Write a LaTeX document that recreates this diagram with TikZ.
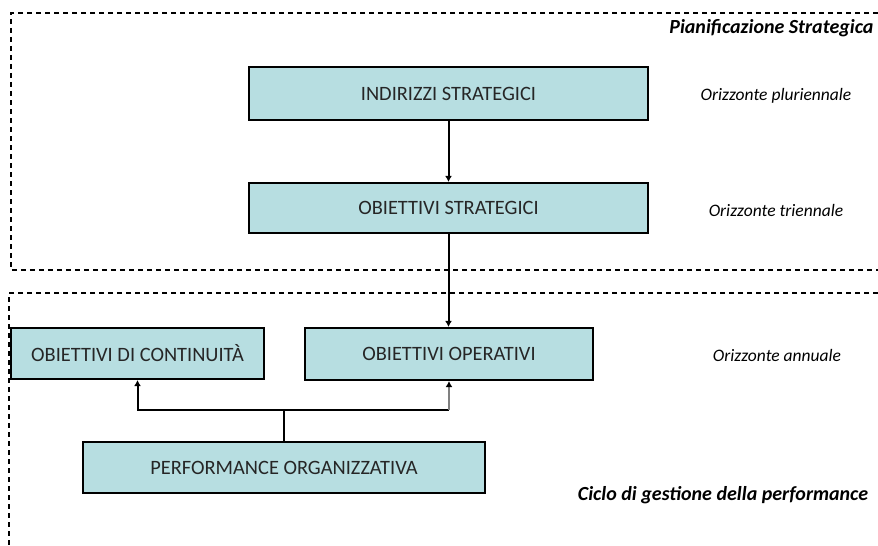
\documentclass[tikz,border=0pt]{standalone}
\usepackage{fontspec}
\setmainfont{Carlito}
\usetikzlibrary{arrows.meta}
\definecolor{boxfill}{RGB}{183,222,225}
\begin{document}
\begin{tikzpicture}[x=1pt,y=-1pt,
  stepbox/.style={draw=black,line width=2.2pt,fill=boxfill,inner sep=0pt,
    text=black!85,font=\fontsize{20.4}{24}\selectfont},
  zone/.style={dash pattern=on 5pt off 4pt,line width=2.2pt},
  horizon/.style={font=\itshape\fontsize{17.5}{20}\selectfont},
  title/.style={font=\bfseries\itshape\fontsize{20}{24}\selectfont},
  link/.style={line width=2pt,-{Latex[length=6pt,width=7pt,black]}},
  wire/.style={line width=2pt}]
\useasboundingbox (0,0) rectangle (878,546);

% planning and performance zones
\draw[zone] (878,13) -- (11,13) -- (11,270) -- (878,270);
\draw[zone] (878,293) -- (9,293) -- (9,546);

% boxes
\node[stepbox,minimum width=399pt,minimum height=53pt] (ind) at (448.5,93.5) {INDIRIZZI STRATEGICI};
\node[stepbox,minimum width=399pt,minimum height=50pt] (obs) at (448.5,208) {OBIETTIVI STRATEGICI};
\node[stepbox,minimum width=253pt,minimum height=51pt] (cont) at (137.5,353.5) {OBIETTIVI DI CONTINUITÀ};
\node[stepbox,minimum width=288pt,minimum height=52pt] (ope) at (449,354) {OBIETTIVI OPERATIVI};
\node[stepbox,minimum width=402pt,minimum height=51pt] (perf) at (284,467.5) {PERFORMANCE ORGANIZZATIVA};

% connectors
\draw[link] (ind) -- (obs);
\draw[link] (obs.south) -- (obs.south |- ope.north);
\coordinate (split) at (284,410);
\draw[wire] (perf.north) -- (split);
\draw[link] (split) -| (cont.south);
\draw[wire] (split) -- (split -| ope.south);
\draw[link,draw=gray] (split -| ope.south) -- (ope.south);

% labels
\node[horizon] (plur) at (776,96) {Orizzonte pluriennale};
\node[horizon] (trien) at (776,210) {Orizzonte triennale};
\node[horizon] (ann) at (777,355) {Orizzonte annuale};
\node[title,anchor=east] (pian) at (877,28) {Pianificazione Strategica};
\node[title] (ciclo) at (723,495) {Ciclo di gestione della performance};
\end{tikzpicture}
\end{document}
